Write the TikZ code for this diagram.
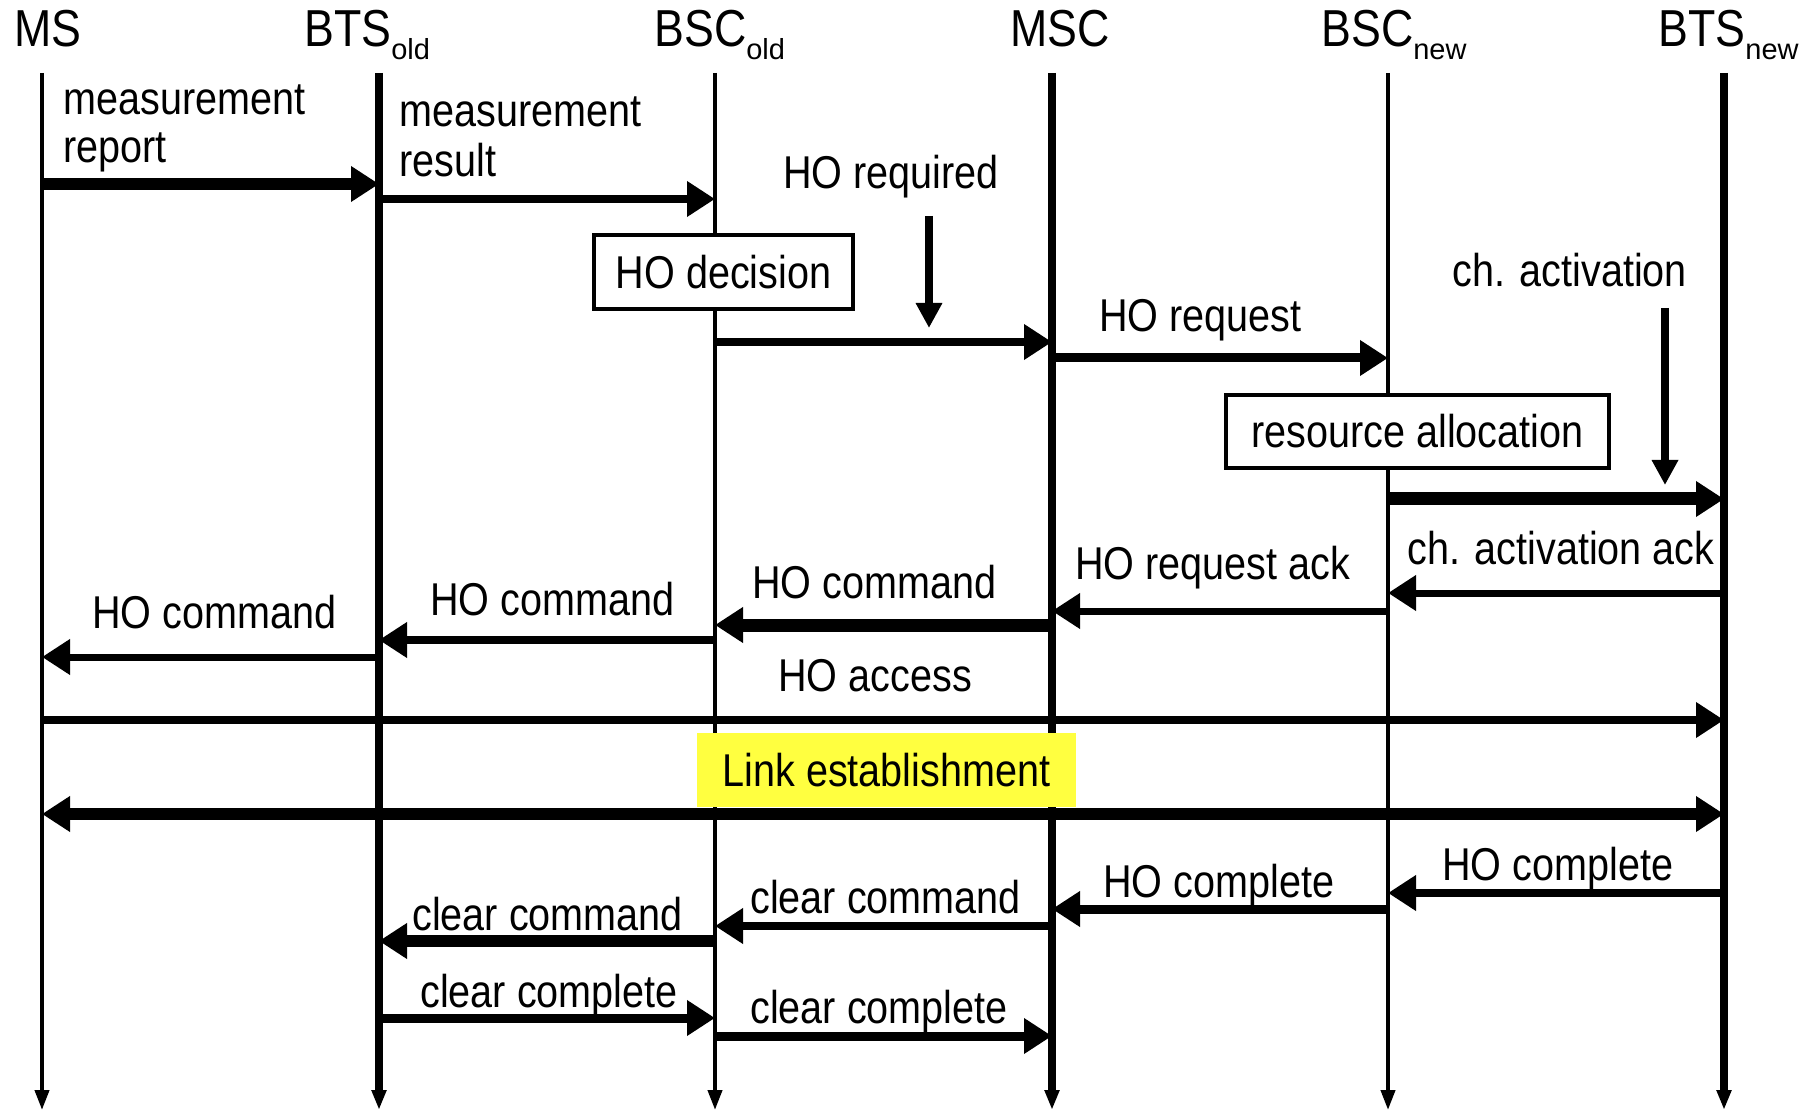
\documentclass[tikz,border=0pt]{standalone}
\usepackage{fontspec}
\setmainfont{Liberation Sans}[FakeStretch=0.86]
\newfontfamily\subfont{Liberation Sans}
\usetikzlibrary{arrows.meta}
\definecolor{linkyellow}{RGB}{255,255,64}
\newcommand\lsub[1]{\raisebox{-6.5pt}{\fontsize{14.5}{14.5}\subfont #1}}
\begin{document}
\begin{tikzpicture}[x=0.5pt,y=-0.5pt,
  life/.style={line width=#1, -{Triangle[length=10pt,width=7pt]}},
  msg/.style={line width=#1, -{Triangle[length=14pt,width=17pt]}},
  dmsg/.style={line width=#1, {Triangle[length=14pt,width=17pt]}-{Triangle[length=14pt,width=17pt]}},
  vmsg/.style={line width=4pt, -{Triangle[length=12.5pt,width=12.5pt]}},
  lbl/.style={font=\fontsize{23}{27}\selectfont, inner sep=0pt, anchor=base west},
  hdr/.style={font=\fontsize{26}{30}\selectfont, inner sep=0pt, anchor=base west},
  procbox/.style={draw, line width=2pt, fill=white, inner sep=0pt, font=\fontsize{23}{27}\selectfont}]
\fill[white] (0,0) rectangle (1805,1112);
\useasboundingbox (0,0) rectangle (1805,1112);

% headers
\node[hdr] (hMS)   at (14,47)   {MS};
\node[hdr] (hBTSo) at (304,47)  {BTS\lsub{old}};
\node[hdr] (hBSCo) at (654,47)  {BSC\lsub{old}};
\node[hdr] (hMSC)  at (1010,47) {MSC};
\node[hdr] (hBSCn) at (1321,47) {BSC\lsub{new}};
\node[hdr] (hBTSn) at (1658,47) {BTS\lsub{new}};

% lifelines
\coordinate (ms)   at (42,73);   \coordinate (msE)   at (42,1110);
\coordinate (btso) at (379,73);  \coordinate (btsoE) at (379,1110);
\coordinate (bsco) at (715,73);  \coordinate (bscoE) at (715,1110);
\coordinate (msc)  at (1052,73); \coordinate (mscE)  at (1052,1110);
\coordinate (bscn) at (1388,73); \coordinate (bscnE) at (1388,1110);
\coordinate (btsn) at (1724,73); \coordinate (btsnE) at (1724,1110);
\draw[life=2pt] (ms) -- (msE);
\draw[life=4pt] (btso) -- (btsoE);
\draw[life=2pt] (bsco) -- (bscoE);
\draw[life=4pt] (msc) -- (mscE);
\draw[life=2pt] (bscn) -- (bscnE);
\draw[life=4pt] (btsn) -- (btsnE);

% messages
\draw[msg=6pt]   (ms |- 0,184)   -- (btso |- 0,184);
\draw[msg=4pt]   (btso |- 0,199) -- (bsco |- 0,199);
\draw[msg=4pt]   (bsco |- 0,342) -- (msc |- 0,342);
\draw[msg=4.5pt] (msc |- 0,358)  -- (bscn |- 0,358);
\draw[msg=6.5pt] (bscn |- 0,499) -- (btsn |- 0,499);
\draw[msg=3.5pt] (btsn |- 0,593) -- (bscn |- 0,593);
\draw[msg=3.5pt] (bscn |- 0,611) -- (msc |- 0,611);
\draw[msg=6.5pt] (msc |- 0,625)  -- (bsco |- 0,625);
\draw[msg=4pt]   (bsco |- 0,640) -- (btso |- 0,640);
\draw[msg=3.5pt] (btso |- 0,657) -- (ms |- 0,657);
\draw[msg=4pt]   (ms |- 0,720)   -- (btsn |- 0,720);
\draw[dmsg=6pt]  (ms |- 0,814)   -- (btsn |- 0,814);
\draw[msg=4pt]   (btsn |- 0,893) -- (bscn |- 0,893);
\draw[msg=4.5pt] (bscn |- 0,909) -- (msc |- 0,909);
\draw[msg=4pt]   (msc |- 0,926)  -- (bsco |- 0,926);
\draw[msg=6pt]   (bsco |- 0,941) -- (btso |- 0,941);
\draw[msg=4.5pt] (btso |- 0,1018) -- (bsco |- 0,1018);
\draw[msg=4.5pt] (bsco |- 0,1036) -- (msc |- 0,1036);

% vertical trigger arrows
\coordinate (reqA) at (929,216);  \coordinate (reqB) at (929,328);
\coordinate (actA) at (1665,308); \coordinate (actB) at (1665,485);
\draw[vmsg] (reqA) -- (reqB);
\draw[vmsg] (actA) -- (actB);

% boxes
\node[procbox, minimum width=129.5pt, minimum height=37pt] (hodec) at (723.5,272) {HO decision};
\node[procbox, minimum width=191.5pt, minimum height=36.5pt] (resal) at (1417.5,431.5) {resource allocation};
\node[fill=linkyellow, inner sep=0pt, minimum width=189.5pt, minimum height=37pt,
      font=\fontsize{23}{27}\selectfont] (link) at (886.5,770) {Link establishment};

% labels
\node[lbl] (tMR1)   at (63,115)   {measurement};
\node[lbl] (tMR2)   at (63,163)   {report};
\node[lbl] (tRes1)  at (399,127)  {measurement};
\node[lbl] (tRes2)  at (399,177)  {result};
\node[lbl] (tReq)   at (783,189)  {HO required};
\node[lbl] (tHOreq) at (1099,332) {HO request};
\node[lbl] (tAct)   at (1452,287) {ch. activation};
\node[lbl] (tActAck) at (1407,565) {ch. activation ack};
\node[lbl] (tReqAck) at (1075,580) {HO request ack};
\node[lbl] (tCmd1)  at (752,598)  {HO command};
\node[lbl] (tCmd2)  at (430,615)  {HO command};
\node[lbl] (tCmd3)  at (92,628)   {HO command};
\node[lbl] (tAcc)   at (778,691)  {HO access};
\node[lbl] (tCpl1)  at (1442,880) {HO complete};
\node[lbl] (tCpl2)  at (1103,897) {HO complete};
\node[lbl] (tClr1)  at (750,913)  {clear command};
\node[lbl] (tClr2)  at (412,930)  {clear command};
\node[lbl] (tClc1)  at (420,1007) {clear complete};
\node[lbl] (tClc2)  at (750,1023) {clear complete};
\end{tikzpicture}
\end{document}
